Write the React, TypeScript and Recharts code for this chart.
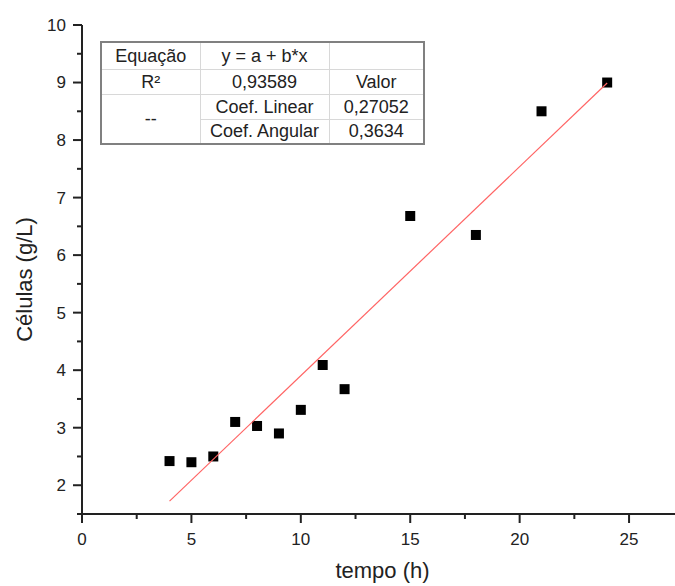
import { ScatterChart, Scatter, XAxis, YAxis } from 'recharts'

const tempo = [4, 5, 6, 7, 8, 9, 10, 11, 12, 15, 18, 21, 24]
const celulas = [2.42, 2.4, 2.5, 3.1, 3.03, 2.9, 3.31, 4.09, 3.67, 6.68, 6.35, 8.5, 9.0]

// ajuste linear y = a + b*x
const coefLinear = 0.27052
const coefAngular = 0.3634
const r2 = '0,93589'
const fitRange = [4, 24]

const xTicks = [0, 2.5, 5, 7.5, 10, 12.5, 15, 17.5, 20, 22.5, 25]
const yTicks = [1.5, 2, 2.5, 3, 3.5, 4, 4.5, 5, 5.5, 6, 6.5, 7, 7.5, 8, 8.5, 9, 9.5, 10]

const points = tempo.map((t, i) => ({ x: t, y: celulas[i] }))
const fitLine = fitRange.map((t) => ({ x: t, y: coefLinear + coefAngular * t }))

const AXIS = '#222'
const FONT = '"Liberation Sans", Arial, sans-serif'

function XTick({ x, y, payload }: any) {
  const major = payload.value % 5 === 0
  return (
    <g>
      <line x1={x} x2={x} y1={y} y2={y + (major ? 9 : 5)} stroke={AXIS} strokeWidth={2} />
      {major && (
        <text x={x} y={y + 31} textAnchor="middle" fontSize={17} fill={AXIS} fontFamily={FONT}>
          {payload.value}
        </text>
      )}
    </g>
  )
}

function YTick({ x, y, payload }: any) {
  const major = Number.isInteger(payload.value)
  return (
    <g>
      <line x1={x} x2={x - (major ? 9 : 5)} y1={y} y2={y} stroke={AXIS} strokeWidth={2} />
      {major && (
        <text x={x - 16} y={y} dy="0.35em" textAnchor="end" fontSize={17} fill={AXIS} fontFamily={FONT}>
          {payload.value}
        </text>
      )}
    </g>
  )
}

function YTitle({ viewBox }: any) {
  const cx = viewBox.x + 24
  const cy = viewBox.y + viewBox.height / 2 + 10
  return (
    <text
      x={cx}
      y={cy}
      dy="0.35em"
      textAnchor="middle"
      transform={`rotate(-90, ${cx}, ${cy})`}
      fontSize={22}
      fill={AXIS}
      fontFamily={FONT}
    >
      Células (g/L)
    </text>
  )
}

function XTitle({ viewBox }: any) {
  return (
    <text
      x={viewBox.x + viewBox.width / 2 + 4}
      y={viewBox.y + 64}
      textAnchor="middle"
      fontSize={22}
      fill={AXIS}
      fontFamily={FONT}
    >
      tempo (h)
    </text>
  )
}

const Square = ({ cx, cy }: any) => <rect x={cx - 5} y={cy - 5} width={10} height={10} fill="#000" />

const cell: React.CSSProperties = {
  borderRight: '1px solid #d8d8d8',
  borderBottom: '1px solid #d8d8d8',
  textAlign: 'center',
  padding: 0,
  lineHeight: 1,
}

function FitTable() {
  return (
    <table
      style={{
        position: 'absolute',
        left: 100,
        top: 41,
        width: 323,
        height: 104,
        borderCollapse: 'collapse',
        border: '2px solid #808080',
        background: '#fff',
        fontFamily: FONT,
        fontSize: 18,
        color: '#222',
        tableLayout: 'fixed',
      }}
    >
      <colgroup>
        <col style={{ width: 99 }} />
        <col style={{ width: 129 }} />
        <col style={{ width: 95 }} />
      </colgroup>
      <tbody>
        <tr style={{ height: 27 }}>
          <td style={cell}>Equação</td>
          <td style={cell}>y = a + b*x</td>
          <td style={cell}></td>
        </tr>
        <tr style={{ height: 25 }}>
          <td style={cell}>R²</td>
          <td style={cell}>{r2}</td>
          <td style={cell}>Valor</td>
        </tr>
        <tr style={{ height: 25 }}>
          <td style={cell} rowSpan={2}>--</td>
          <td style={cell}>Coef. Linear</td>
          <td style={cell}>{String(coefLinear).replace('.', ',')}</td>
        </tr>
        <tr style={{ height: 25 }}>
          <td style={cell}>Coef. Angular</td>
          <td style={cell}>{String(coefAngular).replace('.', ',')}</td>
        </tr>
      </tbody>
    </table>
  )
}

export default function App() {
  return (
    <div style={{ position: 'absolute', left: 0, top: 0, width: 675, height: 586, background: '#fff' }}>
      <ScatterChart width={675} height={586} margin={{ top: 25, right: 0, bottom: 0, left: 0 }}>
        <XAxis
          dataKey="x"
          type="number"
          domain={[0, 27.1]}
          ticks={xTicks}
          interval={0}
          height={72}
          tickSize={0}
          tickMargin={0}
          tick={<XTick />}
          axisLine={{ stroke: AXIS, strokeWidth: 2 }}
          label={<XTitle />}
        />
        <YAxis
          dataKey="y"
          type="number"
          domain={[1.5, 10]}
          ticks={yTicks}
          interval={0}
          width={82}
          tickSize={0}
          tickMargin={0}
          tick={<YTick />}
          axisLine={{ stroke: AXIS, strokeWidth: 2 }}
          label={<YTitle />}
        />
        <Scatter data={points} shape={<Square />} isAnimationActive={false} />
        <Scatter
          data={fitLine}
          line={{ stroke: '#ff6464', strokeWidth: 1.2 }}
          shape={() => <g />}
          isAnimationActive={false}
        />
      </ScatterChart>
      <FitTable />
    </div>
  )
}
